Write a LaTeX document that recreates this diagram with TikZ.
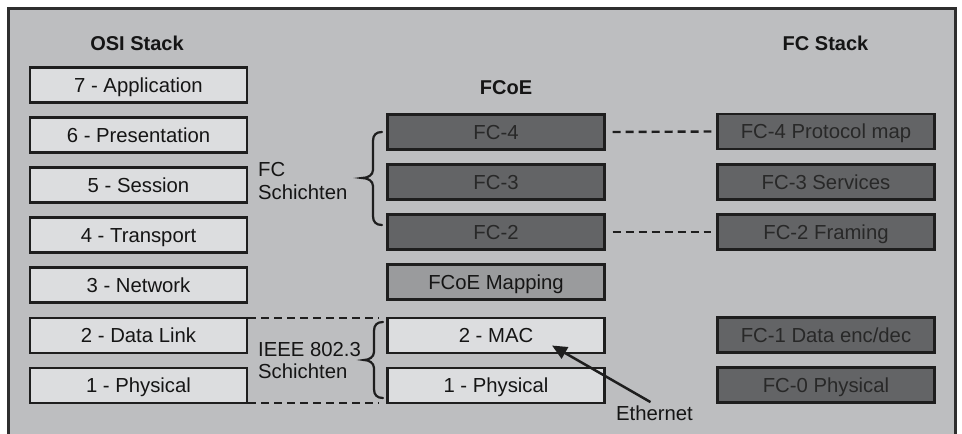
\documentclass[tikz,border=0pt]{standalone}
\usepackage{fontspec}
\setmainfont{Liberation Sans}
\usetikzlibrary{arrows.meta,calc}
\definecolor{bgc}{HTML}{BDBEC0}
\definecolor{framec}{HTML}{2E2E2E}
\definecolor{lightc}{HTML}{DCDDDF}
\definecolor{darkc}{HTML}{636466}
\definecolor{midc}{HTML}{9A9B9D}
\definecolor{borderc}{HTML}{1E1E1E}
\definecolor{dtext}{HTML}{282828}
\definecolor{ltext}{HTML}{151515}
\begin{document}
\begin{tikzpicture}[x=1pt,y=-1pt,
  txt/.style={font=\fontsize{20.3}{23}\selectfont},
  boxbase/.style={txt, draw=borderc, line width=2.2pt, minimum width=217pt, minimum height=35pt,
     inner sep=0pt, text height=14.5pt, text depth=0pt},
  lbox/.style={boxbase, fill=lightc, text=ltext},
  dbox/.style={boxbase, fill=darkc, text=dtext},
  mbox/.style={boxbase, fill=midc, text=ltext},
  title/.style={font=\fontsize{20}{24}\selectfont\bfseries, text=ltext, inner sep=0pt},
  dline/.style={draw=borderc, line width=2.4pt, dash pattern=on 8pt off 5pt},
  bracepath/.style={draw=borderc, line width=2.2pt, line cap=round},
  arr/.style={draw=borderc, line width=2.5pt, -{Triangle[length=15pt,width=13pt]}}
]
\useasboundingbox (0,0) rectangle (962,434);
\fill[white] (0,0) rectangle (962,434);
\draw[line width=3pt, draw=framec, fill=bgc] (8.5,8.5) rectangle (955,460);

% titles
\node[title] (osit) at (137,43) {OSI Stack};
\node[title] (fcoet) at (506,88) {FCoE};
\node[title] (fcst) at (825.5,43) {FC Stack};

% OSI stack
\node[lbox] (osi7) at (138.5,85) {7 - Application};
\node[lbox] (osi6) at (138.5,135) {6 - Presentation};
\node[lbox] (osi5) at (138.5,185) {5 - Session};
\node[lbox] (osi4) at (138.5,235) {4 - Transport};
\node[lbox] (osi3) at (138.5,285) {3 - Network};
\node[lbox] (osi2) at (138.5,335.5) {2 - Data Link};
\node[lbox] (osi1) at (138.5,385.5) {1 - Physical};

% FCoE stack
\node[dbox] (fc4) at (496,132) {FC-4};
\node[dbox] (fc3) at (496,182) {FC-3};
\node[dbox] (fc2) at (496,232) {FC-2};
\node[mbox] (map) at (496,282) {FCoE Mapping};
\node[lbox] (mac) at (496,335.5) {2 - MAC};
\node[lbox] (phy) at (496,385.5) {1 - Physical};

% FC stack
\node[dbox] (fcs4) at (826,131.5) {FC-4 Protocol map};
\node[dbox] (fcs3) at (826,182) {FC-3 Services};
\node[dbox] (fcs2) at (826,232) {FC-2 Framing};
\node[dbox] (fcs1) at (826,335) {FC-1 Data enc/dec};
\node[dbox] (fcs0) at (826,385) {FC-0 Physical};

% layer labels
\node[txt, text=ltext, anchor=north west, align=left, inner sep=0pt] (fcl) at (258,162.5) {FC\\Schichten};
\node[font=\fontsize{20.3}{22}\selectfont, text=ltext, anchor=north west, align=left, inner sep=0pt] (ieeel) at (258,342.5) {IEEE 802.3\\Schichten};

% dashed links
\draw[dline] ([xshift=7pt]fc4.east) -- ([xshift=-5pt]fcs4.west);
\draw[dline] ([xshift=7pt]fc2.east) -- ([xshift=-5pt]fcs2.west);
\draw[dline] ($(osi2.north east)+(0,1)$) -- ($(osi2.north east -| mac.west)+(-7,1)$);
\draw[dline] ($(osi1.south east)+(0,-1)$) -- ($(osi1.south east -| mac.west)+(-7,-1)$);

% braces
\draw[bracepath] (382,132) .. controls (376,132) and (373,135) .. (373,141)
  -- (373,170) .. controls (373,175) and (368,178) .. (362,178)
  .. controls (368,178) and (373,181) .. (373,186)
  -- (373,216) .. controls (373,222) and (376,225) .. (382,225);
\draw[bracepath] (383,322) .. controls (377,322) and (374,325) .. (374,331)
  -- (374,352) .. controls (374,357) and (369,360) .. (364,360)
  .. controls (369,360) and (374,363) .. (374,368)
  -- (374,389) .. controls (374,395) and (377,398) .. (383,398);

% Ethernet arrow
\node[txt, text=ltext, anchor=base, inner sep=3pt] (eth) at (654.5,420) {Ethernet};
\coordinate (ethtip) at ($(mac.center)+(56,10)$);
\draw[arr] ([xshift=-4pt]eth.north) -- (ethtip);
\end{tikzpicture}
\end{document}
